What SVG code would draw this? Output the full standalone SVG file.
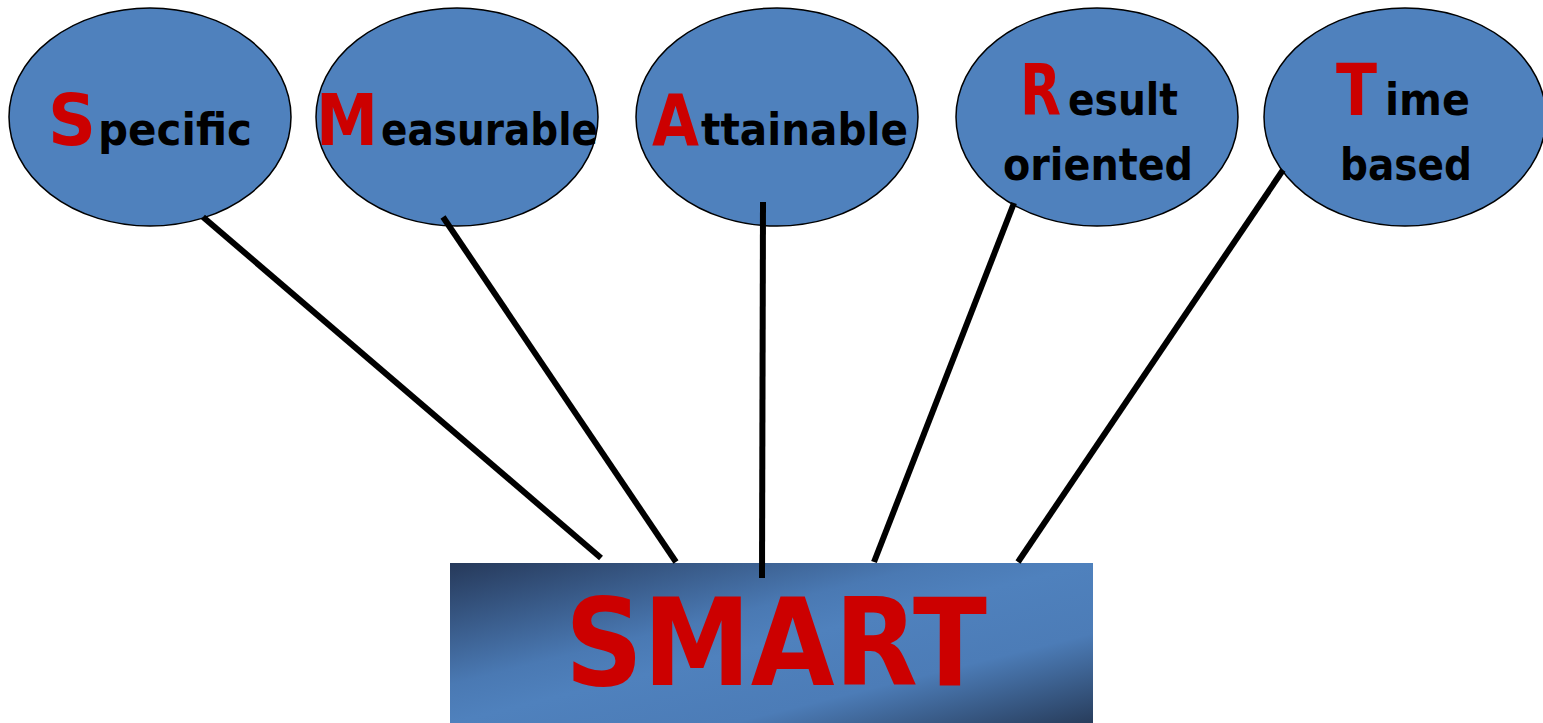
<svg xmlns="http://www.w3.org/2000/svg" width="1543" height="723" viewBox="0 0 1543 723">
<defs>
<linearGradient id="boxGrad" x1="0" y1="0" x2="1" y2="1">
<stop offset="0" stop-color="#26395a"/>
<stop offset="0.38" stop-color="#4a79b3"/>
<stop offset="0.5" stop-color="#4f81bd"/>
<stop offset="0.72" stop-color="#4c7cb7"/>
<stop offset="1" stop-color="#283d5c"/>
</linearGradient>
<style>
.node{fill:#4f81bd;stroke:#000;stroke-width:1.5}
.lbl{font-family:"Comic Sans MS","DejaVu Sans",sans-serif;font-weight:bold;fill:#000;font-size:44px}
.cap{fill:#cc0000;font-size:72px}
.conn{stroke:#000;stroke-width:6;fill:none}
.big{font-family:"Comic Sans MS","DejaVu Sans",sans-serif;font-weight:bold;fill:#cc0000;font-size:122px}
</style>
</defs>
<g id="smart">
<rect x="450" y="563" width="643" height="160" fill="url(#boxGrad)"/>
<text class="big" x="565" y="685" textLength="422" lengthAdjust="spacingAndGlyphs">SMART</text>
</g>
<g id="specific">
<ellipse class="node" cx="150" cy="117" rx="141" ry="109"/>
<text class="lbl" y="145"><tspan class="cap" x="48" textLength="48" lengthAdjust="spacingAndGlyphs">S</tspan><tspan x="98" textLength="154" lengthAdjust="spacingAndGlyphs">pecific</tspan></text>
</g>
<g id="measurable">
<ellipse class="node" cx="457" cy="117" rx="141" ry="109"/>
<text class="lbl" y="145"><tspan class="cap" x="316" textLength="62" lengthAdjust="spacingAndGlyphs">M</tspan><tspan x="381" textLength="217" lengthAdjust="spacingAndGlyphs">easurable</tspan></text>
</g>
<g id="attainable">
<ellipse class="node" cx="777" cy="117" rx="141" ry="109"/>
<text class="lbl" y="145"><tspan class="cap" x="652" textLength="47" lengthAdjust="spacingAndGlyphs">A</tspan><tspan x="701" textLength="207" lengthAdjust="spacingAndGlyphs">ttainable</tspan></text>
</g>
<g id="result">
<ellipse class="node" cx="1097" cy="117" rx="141" ry="109"/>
<text class="lbl" y="115"><tspan class="cap" x="1020" textLength="41" lengthAdjust="spacingAndGlyphs">R</tspan><tspan x="1068" textLength="110" lengthAdjust="spacingAndGlyphs">esult</tspan></text>
<text class="lbl" x="1003" y="180" textLength="190" lengthAdjust="spacingAndGlyphs">oriented</text>
</g>
<g id="time">
<ellipse class="node" cx="1405" cy="117" rx="141" ry="109"/>
<text class="lbl" y="115"><tspan class="cap" x="1336" textLength="41" lengthAdjust="spacingAndGlyphs">T</tspan><tspan x="1385" textLength="85" lengthAdjust="spacingAndGlyphs">ime</tspan></text>
<text class="lbl" x="1340" y="180" textLength="132" lengthAdjust="spacingAndGlyphs">based</text>
</g>
<g id="connectors">
<line class="conn" x1="203" y1="217" x2="601" y2="558"/>
<line class="conn" x1="443" y1="217" x2="676" y2="562"/>
<line class="conn" x1="763" y1="202" x2="762" y2="578"/>
<line class="conn" x1="1014" y1="203" x2="874" y2="562"/>
<line class="conn" x1="1283" y1="170" x2="1018" y2="562"/>
</g>
</svg>
